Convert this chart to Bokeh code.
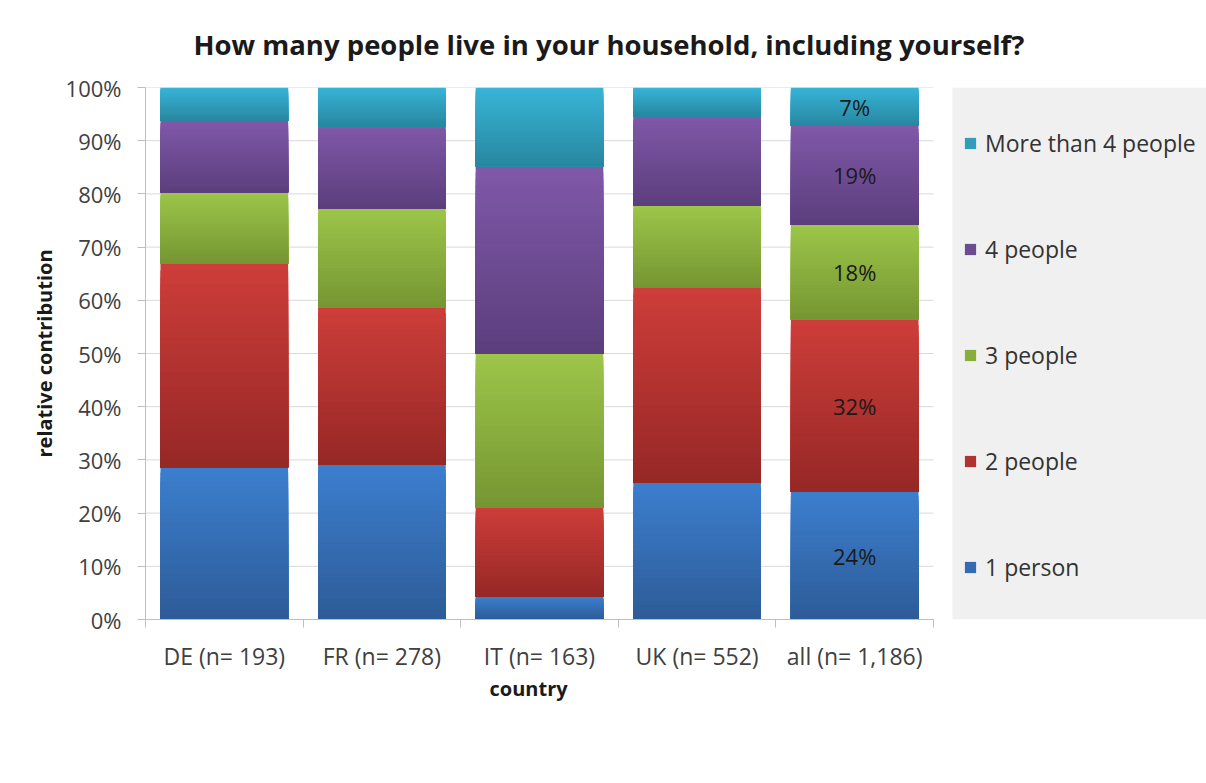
import numpy as np
from bokeh.plotting import figure
from bokeh.models import (ColumnDataSource, FixedTicker, Legend, LegendItem, Title,
                          PrintfTickFormatter, BoxAnnotation)
from bokeh.core.properties import value
from bokeh.embed import file_html
from bokeh.resources import INLINE

# ---------------- data ----------------
countries = ["DE (n= 193)", "FR (n= 278)", "IT (n= 163)", "UK (n= 552)", "all (n= 1,186)"]
series_names = ["1 person", "2 people", "3 people", "4 people", "More than 4 people"]
one_person = [28.6, 29.1, 4.3, 25.7, 24.0]
two_people = [38.3, 29.5, 16.7, 36.6, 32.4]
three_people = [13.4, 18.7, 28.9, 15.5, 17.8]
four_people = [13.4, 15.4, 35.3, 16.8, 18.6]
more_than_four = [6.3, 7.3, 14.8, 5.4, 7.2]
labelled_country = "all (n= 1,186)"
y_ticks = [0, 10, 20, 30, 40, 50, 60, 70, 80, 90, 100]

series_values = [one_person, two_people, three_people, four_people, more_than_four]
# (bottom colour, top colour) for each series' vertical gradient
series_colors = [
    ((46, 92, 152), (60, 127, 207)),
    ((150, 40, 38), (206, 62, 58)),
    ((118, 150, 50), (157, 198, 74)),
    ((92, 62, 125), (128, 89, 169)),
    ((40, 135, 160), (56, 181, 216)),
]

FONT = "Open Sans"
N_BANDS = 30
BAR_W = 0.81

# layout geometry (pixels)
FIG_W, FIG_H = 1206, 783
BORDER_L, BORDER_T, BORDER_B = 145, 87, 164
CAT_PX = 157.6                       # pixel width of one category slot
FRAME_W = FIG_W - BORDER_L           # frame extends under the legend area
n_cat = len(countries)
x_end = FRAME_W / CAT_PX             # category units spanning the whole frame

p = figure(width=FIG_W, height=FIG_H, x_range=(0, x_end), y_range=(0, 100),
           output_backend="svg", toolbar_location=None,
           min_border_left=BORDER_L, min_border_right=0,
           min_border_top=BORDER_T, min_border_bottom=BORDER_B)
p.outline_line_color = None
p.background_fill_color = "white"
p.border_fill_color = "white"
p.xgrid.grid_line_color = None
p.ygrid.grid_line_color = None

# horizontal gridlines only over the category area
p.segment(x0=[0] * len(y_ticks), x1=[n_cat] * len(y_ticks), y0=y_ticks, y1=y_ticks,
          line_color="#d9d9d9", line_width=1)

# ---------------- stacked bars with gradient ----------------
legend_items = []
cum = np.zeros(n_cat)
for s_idx, (name, vals) in enumerate(zip(series_names, series_values)):
    vals = np.array(vals, dtype=float)
    lo_c, hi_c = series_colors[s_idx]
    left, right, bottom, top, color = [], [], [], [], []
    for i in range(n_cat):
        b0 = cum[i]
        t0 = cum[i] + vals[i]
        for k in range(N_BANDS - 1, -1, -1):
            fm = (k + 0.5) / N_BANDS
            left.append(i + 0.5 - BAR_W / 2)
            right.append(i + 0.5 + BAR_W / 2)
            bottom.append(b0)
            top.append(b0 + (t0 - b0) * (k + 1) / N_BANDS)
            r = int(lo_c[0] + (hi_c[0] - lo_c[0]) * fm)
            g = int(lo_c[1] + (hi_c[1] - lo_c[1]) * fm)
            bl = int(lo_c[2] + (hi_c[2] - lo_c[2]) * fm)
            color.append("#%02x%02x%02x" % (r, g, bl))
    src = ColumnDataSource(dict(left=left, right=right, bottom=bottom, top=top, color=color))
    rend = p.quad(left="left", right="right", bottom="bottom", top="top", source=src,
                  fill_color="color", line_color=None)
    legend_items.append(LegendItem(label=name, renderers=[rend], index=N_BANDS // 2))
    cum = cum + vals

# ---------------- data labels on the "all" bar ----------------
li = countries.index(labelled_country)
cum_l = 0.0
lx, ly, lt = [], [], []
for vals in series_values:
    v = vals[li]
    lx.append(li + 0.5)
    ly.append(cum_l + v / 2)
    lt.append("%d%%" % round(v))
    cum_l += v
p.text(x=lx, y=ly, text=lt, text_align="center", text_baseline="middle",
       text_font=value(FONT), text_font_size="22px", text_color="#1a1a1a")

# ---------------- axes ----------------
xa = p.xaxis[0]
xa.bounds = (0, n_cat)
xa.ticker = FixedTicker(ticks=[i + 0.5 for i in range(n_cat)],
                        minor_ticks=list(range(n_cat + 1)))
xa.major_label_overrides = {i + 0.5: c for i, c in enumerate(countries)}
xa.major_tick_out = 0
xa.major_tick_in = 0
xa.minor_tick_out = 8
xa.minor_tick_in = 0
xa.minor_tick_line_color = "#bfbfbf"
xa.axis_line_color = "#bfbfbf"
xa.major_label_text_font = FONT
xa.major_label_text_font_size = "23px"
xa.major_label_text_color = "#404040"
xa.major_label_standoff = 12

ya = p.yaxis[0]
ya.ticker = FixedTicker(ticks=y_ticks, minor_ticks=[])
ya.formatter = PrintfTickFormatter(format="%d%%")
ya.major_tick_out = 8
ya.major_tick_in = 0
ya.major_tick_line_color = "#bfbfbf"
ya.axis_line_color = "#bfbfbf"
ya.major_label_text_font = FONT
ya.major_label_text_font_size = "22px"
ya.major_label_text_color = "#404040"
ya.major_label_standoff = 16
ya.axis_label = "relative contribution"
ya.axis_label_text_font = FONT
ya.axis_label_text_font_style = "bold"
ya.axis_label_text_font_size = "20px"
ya.axis_label_text_color = "#1a1a1a"
ya.axis_label_standoff = 5

# x-axis title, centred under the category area (not under the legend area):
# a tiny transparent spacer panel, then the title text below it
spacer = Title(text=".", text_font_size="1px", text_alpha=0.0, standoff=62)
p.add_layout(spacer, "below")
x_title = Title(text="country", text_font=FONT, text_font_style="bold",
                text_font_size="20px", text_color="#1a1a1a",
                align="left", offset=344, vertical_align="top", standoff=0)
p.add_layout(x_title, "below")

# ---------------- title ----------------
p.title = Title(text="How many people live in your household, including yourself?",
                text_font=FONT, text_font_style="bold", text_font_size="27.5px",
                text_color="#1a1a1a", align="left", offset=48,
                vertical_align="top", standoff=46)

# ---------------- legend area ----------------
legend_bg = BoxAnnotation(left=n_cat + 19 / CAT_PX, fill_color="#f0f0f0", fill_alpha=1.0,
                          line_color=None)
p.add_layout(legend_bg)

legend = Legend(items=list(reversed(legend_items)), location=(818, 36),
                orientation="vertical",
                background_fill_alpha=0.0, border_line_color=None,
                padding=0, spacing=74, margin=0,
                glyph_width=14, glyph_height=14, label_height=31,
                label_standoff=8,
                label_text_font=FONT, label_text_font_size="23px",
                label_text_color="#333333")
p.add_layout(legend)

open("out.html", "w").write(file_html(p, INLINE))
